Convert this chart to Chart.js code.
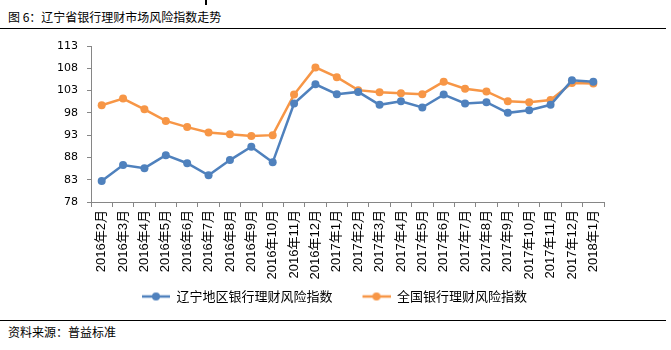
<!DOCTYPE html>
<html>
<head>
<meta charset="utf-8">
<script src="https://cdn.jsdelivr.net/npm/chart.js@4/dist/chart.umd.min.js"></script>
<style>
  body { margin: 0; background: #fff; width: 671px; height: 350px; position: relative; overflow: hidden;
         font-family: "Noto Sans CJK SC", "Liberation Sans", sans-serif; }
  #title { position: absolute; left: 8px; top: 8px; font-size: 12px; color: #000; }
  #topline { position: absolute; left: 0; top: 28px; width: 666px; height: 0; border-top: 1.5px solid #000; }
  #botline { position: absolute; left: 0; top: 320px; width: 666px; height: 0; border-top: 1.5px solid #000; }
  #source { position: absolute; left: 8px; top: 323px; font-size: 12px; color: #000; }
  #mark { position: absolute; left: 205px; top: 0; width: 2px; height: 5px; background: #000; }
  #wrap { position: absolute; left: 0; top: 30px; width: 671px; height: 290px; }
</style>
</head>
<body>
<div id="mark"></div>
<div id="title">图 6：辽宁省银行理财市场风险指数走势</div>
<div id="topline"></div>
<div id="wrap"><canvas id="riskChart"></canvas></div>
<div id="botline"></div>
<div id="source">资料来源：普益标准</div>
<script>
const months = ['2016年2月', '2016年3月', '2016年4月', '2016年5月', '2016年6月', '2016年7月',
    '2016年8月', '2016年9月', '2016年10月', '2016年11月', '2016年12月', '2017年1月',
    '2017年2月', '2017年3月', '2017年4月', '2017年5月', '2017年6月', '2017年7月',
    '2017年8月', '2017年9月', '2017年10月', '2017年11月', '2017年12月', '2018年1月'];

const liaoningIndex = [82.7, 86.3, 85.6, 88.5, 86.7, 84.0, 87.4, 90.4, 86.9, 100.1, 104.4, 102.2,
    102.7, 99.8, 100.6, 99.2, 102.1, 100.1, 100.4, 98.0, 98.6, 99.8, 105.3, 105.0];

const nationalIndex = [99.7, 101.2, 98.8, 96.2, 94.8, 93.6, 93.2, 92.8, 93.0, 102.1, 108.2, 106.0,
    103.1, 102.6, 102.4, 102.2, 105.0, 103.4, 102.8, 100.6, 100.4, 100.9, 104.7, 104.6];

const yTicks = [78, 83, 88, 93, 98, 103, 108, 113];

const blue = '#4F81BD';
const orange = '#F79646';
const axisGray = '#868686';

// legend marker: line with a dot, 20px of empty space on the left acts as item spacing
function legendIcon(color) {
    const c = document.createElement('canvas');
    c.width = 48;
    c.height = 10;
    const g = c.getContext('2d');
    g.strokeStyle = color;
    g.lineWidth = 2.5;
    g.beginPath();
    g.moveTo(20, 5);
    g.lineTo(48, 5);
    g.stroke();
    g.fillStyle = color;
    g.beginPath();
    g.arc(34, 5, 4, 0, Math.PI * 2);
    g.fill();
    return c;
}

const icons = [legendIcon(blue), legendIcon(orange)];

const ctx = document.getElementById('riskChart').getContext('2d');

new Chart(ctx, {
    type: 'line',
    data: {
        labels: months,
        datasets: [{
            label: '辽宁地区银行理财风险指数',
            data: liaoningIndex,
            borderColor: blue,
            backgroundColor: blue,
            borderWidth: 2.5,
            pointRadius: 4,
            pointBorderWidth: 0,
            tension: 0,
        }, {
            label: '全国银行理财风险指数',
            data: nationalIndex,
            borderColor: orange,
            backgroundColor: orange,
            borderWidth: 2.5,
            pointRadius: 4,
            pointBorderWidth: 0,
            tension: 0,
        }]
    },
    options: {
        responsive: true,
        maintainAspectRatio: false,
        animation: false,
        layout: {
            padding: { top: 16, right: 22, bottom: 7, left: 0 }
        },
        plugins: {
            legend: {
                position: 'bottom',
                labels: {
                    usePointStyle: true,
                    pointStyleWidth: 48,
                    padding: 10,
                    color: '#000',
                    font: { size: 13, family: '"Noto Sans CJK SC", sans-serif' },
                    generateLabels: chart => Chart.defaults.plugins.legend.labels.generateLabels(chart)
                        .map((item, i) => Object.assign(item, { pointStyle: icons[i] }))
                }
            },
            tooltip: { enabled: false }
        },
        scales: {
            x: {
                offset: true,
                afterFit: scale => { scale.height = 78; },
                border: { color: axisGray, width: 1 },
                grid: {
                    offset: true,
                    drawOnChartArea: false,
                    tickLength: 5,
                    color: axisGray
                },
                ticks: {
                    minRotation: 90,
                    maxRotation: 90,
                    autoSkip: false,
                    padding: 3,
                    color: '#000',
                    font: { size: 13, family: '"Liberation Sans", "Noto Sans CJK SC", sans-serif' }
                }
            },
            y: {
                min: 78,
                max: 113,
                afterFit: scale => { scale.width = 91; },
                afterBuildTicks: scale => { scale.ticks = yTicks.map(v => ({ value: v })); },
                border: { color: axisGray, width: 1 },
                grid: {
                    drawOnChartArea: false,
                    tickLength: 4,
                    color: axisGray
                },
                ticks: {
                    padding: 9,
                    color: '#000',
                    font: { size: 11, family: '"DejaVu Sans", sans-serif' }
                }
            },
            spacer: {
                type: 'linear',
                position: 'right',
                min: 0,
                max: 1,
                afterFit: scale => { scale.width = 45; },
                border: { display: false },
                grid: { display: false },
                ticks: { display: false }
            }
        }
    }
});
</script>
</body>
</html>
